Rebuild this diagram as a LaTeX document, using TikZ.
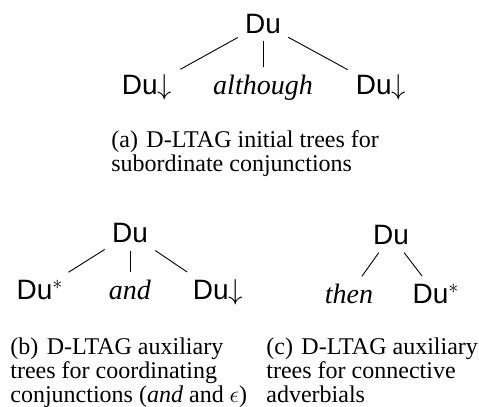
\documentclass[tikz,border=0pt]{standalone}
\usepackage{fontspec}
\setmainfont{Liberation Serif}
\setsansfont{Liberation Sans}
\usetikzlibrary{positioning}
\tikzset{
  sym/.style={font=\sffamily\fontsize{14}{14}\selectfont, inner sep=3.5pt, anchor=base},
  lex/.style={font=\itshape\fontsize{14}{14}\selectfont, inner sep=3.5pt, anchor=base},
  subcap/.style={font=\fontsize{12}{12}\selectfont, align=left, anchor=north west, inner sep=0pt},
  br/.style={draw=black, line width=0.45pt, shorten >=0.5pt}
}

\begin{document}
\begin{tikzpicture}[x=0.5pt, y=-0.5pt]
\useasboundingbox (0,0) rectangle (479,407);
% (a) subordinate conjunctions
\node[sym] (a0) at (263,33) {Du};
\node[sym] (a1) at (147,95) {Du$\downarrow$};
\node[lex] (a2) at (263,95) {although};
\node[sym] (a3) at (381,95) {Du$\downarrow$};
\draw[br] (a0) -- (a1);
\draw[br] (a0) -- (a2);
\draw[br] (a0) -- (a3);
\node[subcap] (ca) at (111,130) {(a)\hspace{0.35em}D-LTAG initial trees for\\subordinate conjunctions};

% (b) coordinating conjunctions
\node[sym] (b0) at (130,243) {Du};
\node[sym] (b1) at (40,300) {Du$^*$};
\node[lex] (b2) at (130,300) {and};
\node[sym] (b3) at (218,300) {Du$\downarrow$};
\draw[br] (b0) -- (b1);
\draw[br] (b0) -- (b2);
\draw[br] (b0) -- (b3);
\node[subcap] (cb) at (10,337) {(b)\hspace{0.35em}D-LTAG auxiliary\\trees for coordinating\\conjunctions (\textit{and} and $\epsilon$)};

% (c) connective adverbials
\node[sym] (c0) at (391,245) {Du};
\node[lex] (c1) at (349,304) {then};
\node[sym] (c2) at (436,304) {Du$^*$};
\draw[br] (c0) -- (c1);
\draw[br] (c0) -- (c2);
\node[subcap] (cc) at (266,337) {(c)\hspace{0.35em}D-LTAG auxiliary\\trees for connective\\adverbials};
\end{tikzpicture}
\end{document}
